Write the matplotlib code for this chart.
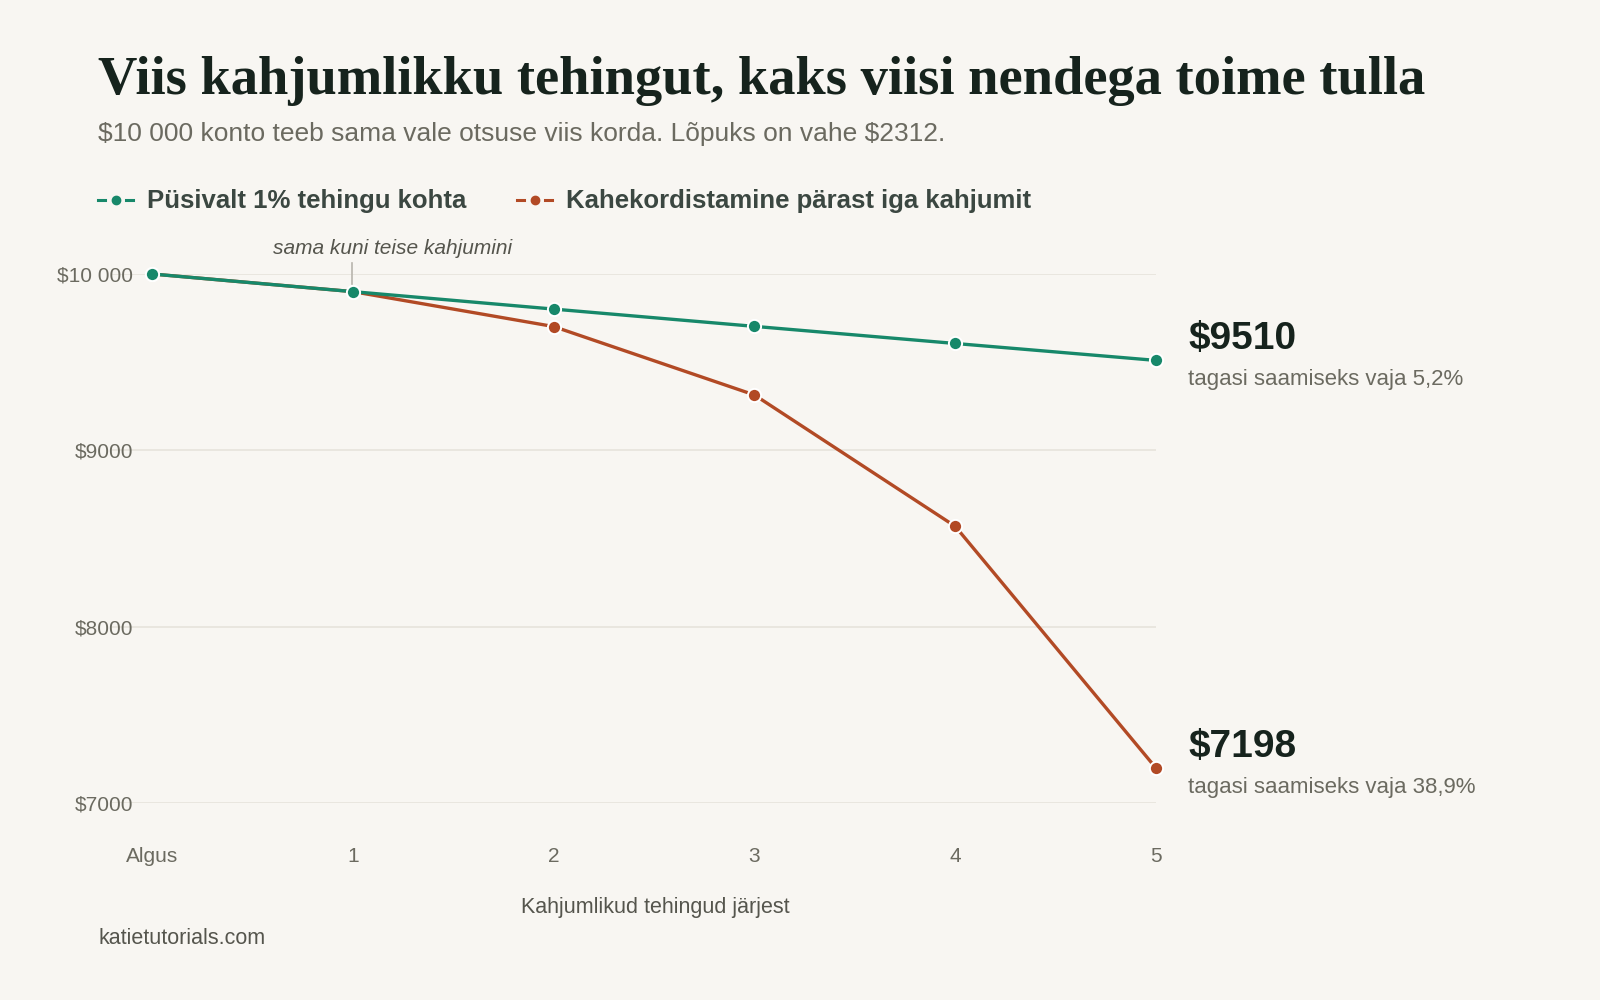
import matplotlib
matplotlib.use("Agg")
import matplotlib.pyplot as plt
from matplotlib.lines import Line2D

plt.rcParams["text.parse_math"] = False

# ---- data ----
x_labels = ["Algus", "1", "2", "3", "4", "5"]
steady = [10000, 9900, 9801, 9703, 9606, 9510]
doubling = [10000, 9900, 9702, 9314, 8569, 7198]
y_ticks = [7000, 8000, 9000, 10000]
y_tick_labels = ["$7000", "$8000", "$9000", "$10 000"]
series_names = ["Püsivalt 1% tehingu kohta", "Kahekordistamine pärast iga kahjumit"]
end_values = ["$9510", "$7198"]
end_notes = ["tagasi saamiseks vaja 5,2%", "tagasi saamiseks vaja 38,9%"]

BG = "#f8f6f2"
GREEN = "#17886a"
ORANGE = "#b24a25"
DARK = "#16231d"
GRAY = "#6b6a60"
LEG = "#3b4741"

W, H = 1600, 1000
fig = plt.figure(figsize=(16, 10), dpi=100, facecolor=BG)

def fx(px):
    return px / W

def fy(py):
    return 1 - py / H

ax = fig.add_axes([fx(112), fy(803), fx(1156) - fx(112), fy(274) - fy(803)])
ax.set_facecolor(BG)
xs = list(range(len(x_labels)))
ax.set_xlim(-0.2, 5)
ax.set_ylim(7000, 10000)
for s in ax.spines.values():
    s.set_visible(False)
ax.set_yticks(y_ticks)
ax.set_yticklabels(y_tick_labels, fontsize=15, color=GRAY, family="Liberation Sans")
ax.set_xticks(xs)
ax.set_xticklabels(x_labels, fontsize=15, color=GRAY, family="Liberation Sans")
ax.tick_params(axis="y", length=0, pad=-15)
ax.tick_params(axis="x", length=0, pad=32)
ax.grid(axis="y", color="#e8e5de", lw=1.3)
ax.set_axisbelow(True)

ax.plot(xs, doubling, color=ORANGE, lw=2.4, marker="o", ms=9.5, mfc=ORANGE,
        mec="white", mew=1.4, clip_on=False, zorder=3)
ax.plot(xs, steady, color=GREEN, lw=2.4, marker="o", ms=9.5, mfc=GREEN,
        mec="white", mew=1.4, clip_on=False, zorder=4)

ax.set_xlabel("Kahjumlikud tehingud järjest", fontsize=15.5, color="#55554d",
              family="Liberation Sans", va="center")
ax.xaxis.set_label_coords((655 - 112) / (1156 - 112), -(908 - 803) / (803 - 274))

# annotation
fig.add_artist(Line2D([fx(352), fx(352)], [fy(263), fy(284)], color="#b8b5ad", lw=1.2))
fig.text(fx(393), fy(249), "sama kuni teise kahjumini", fontsize=15, style="italic",
         color="#55554d", ha="center", va="center", family="Liberation Sans")

# end labels
for val, note, series in [(end_values[0], end_notes[0], steady),
                          (end_values[1], end_notes[1], doubling)]:
    ax.annotate(val, xy=(5, series[-1]), xytext=(32, 21), textcoords="offset pixels",
                fontsize=28, fontweight="bold", color=DARK, ha="left", va="center",
                family="Liberation Sans", annotation_clip=False)
    ax.annotate(note, xy=(5, series[-1]), xytext=(32, -19), textcoords="offset pixels",
                fontsize=16, color=GRAY, ha="left", va="center",
                family="Liberation Sans", annotation_clip=False)

# title
title = fig.text(fx(98), fy(81), "Viis kahjumlikku tehingut, kaks viisi nendega toime tulla",
                 fontsize=40, fontweight="bold", color=DARK, family="Liberation Serif",
                 ha="left", va="center")
fig.canvas.draw()
r = fig.canvas.get_renderer()
bb = title.get_window_extent(r)
title.set_fontsize(40 * (1427 - 98) / bb.width)

fig.text(fx(98), fy(134), "$10 000 konto teeb sama vale otsuse viis korda. Lõpuks on vahe $2312.",
         fontsize=19, color=GRAY, family="Liberation Sans", ha="left", va="center")

# legend
for (x0, col, name) in [(98, GREEN, series_names[0]), (517, ORANGE, series_names[1])]:
    fig.add_artist(Line2D([fx(x0), fx(x0 + 7)], [fy(200), fy(200)], color=col, lw=2.2))
    fig.add_artist(Line2D([fx(x0 + 28), fx(x0 + 35)], [fy(200), fy(200)], color=col, lw=2.2))
    fig.add_artist(Line2D([fx(x0 + 17.5)], [fy(200)], color=col, marker="o", ms=6, lw=0))
    fig.text(fx(x0 + 49), fy(201), name, fontsize=18.5, fontweight="bold", color=LEG,
             family="Liberation Sans", ha="left", va="center")

fig.text(fx(98), fy(939), "katietutorials.com", fontsize=15.5, color="#55554d",
         family="Liberation Sans", ha="left", va="center")

fig.savefig("out.png", dpi=100, facecolor=BG)
